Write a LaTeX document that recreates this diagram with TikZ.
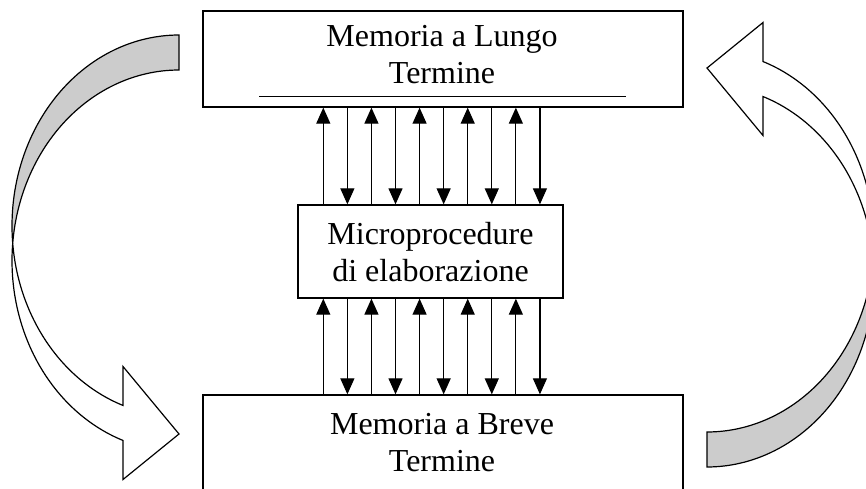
\documentclass[tikz,border=0pt]{standalone}
\usepackage{fontspec}
\setmainfont{Liberation Serif}
\usetikzlibrary{arrows.meta}

\tikzset{
  box/.style={draw, line width=1.3pt, inner sep=0pt},
  boxtext/.style={align=center, inner sep=0pt, font=\fontsize{32}{37}\selectfont},
  link/.style={line width=1.2pt, -{Triangle[width=14pt,length=16pt]}},
  band/.style={draw, line width=1.2pt, line join=miter},
  % curved block arrow: shaded tail at the top right, head at the bottom right
  bentarrow/.pic={
    \filldraw[band, fill=black!20] (179,35)
      -- plot[domain=270:174.74, samples=60] ({179+167*cos(\x)},{225.75+190.75*sin(\x)})
      -- plot[domain=185.26:270, samples=60] ({179+167*cos(\x)},{260.75+190.75*sin(\x)})
      -- cycle;
    \filldraw[band, fill=white]
      plot[domain=174.74:109.59, samples=60] ({179+167*cos(\x)},{225.75+190.75*sin(\x)})
      -- (123,366.5) -- (179,434) -- (123,479.5) -- (123,440.5)
      -- plot[domain=109.59:185.26, samples=60] ({179+167*cos(\x)},{260.75+190.75*sin(\x)})
      -- cycle;
  }
}

\begin{document}
\begin{tikzpicture}[x=1pt, y=-1pt]
\useasboundingbox (0,0) rectangle (866,489);
\clip (0,0) rectangle (866,489);

% the three stores
\node[box, minimum width=480pt, minimum height=96pt] (ltm) at (443,59) {};
\node[box, minimum width=265pt, minimum height=93pt] (mpe) at (430.5,251.5) {};
\node[box, minimum width=480pt, minimum height=140pt] (stm) at (443,465) {};

\node[boxtext] (ltmtext) at (442,55) {Memoria a Lungo\\Termine};
\node[boxtext] (mpetext) at (430.5,252) {Microprocedure\\di elaborazione};
\node[boxtext] (stmtext) at (442,443) {Memoria a Breve\\Termine};

% rule under the long-term memory label
\coordinate (rulel) at ([xshift=57pt,yshift=11pt]ltm.south west);
\coordinate (ruler) at ([xshift=-58pt,yshift=11pt]ltm.south east);
\draw[line width=1pt] (rulel) -- (ruler);

% exchanges between the stores
\foreach \i in {0,...,9} {
  \pgfmathsetmacro\xx{323.3+24.07*\i}
  \ifodd\i
    \draw[link] (\xx,0 |- ltm.south) -- (\xx,0 |- mpe.north);
    \draw[link] (\xx,0 |- mpe.south) -- (\xx,0 |- stm.north);
  \else
    \draw[link] (\xx,0 |- mpe.north) -- (\xx,0 |- ltm.south);
    \draw[link] (\xx,0 |- stm.north) -- (\xx,0 |- mpe.south);
  \fi
}

% the two curved block arrows
\pic (leftarrow) at (0,0) {bentarrow};
\pic[rotate=180] (rightarrow) at (886,502) {bentarrow};
\end{tikzpicture}
\end{document}
